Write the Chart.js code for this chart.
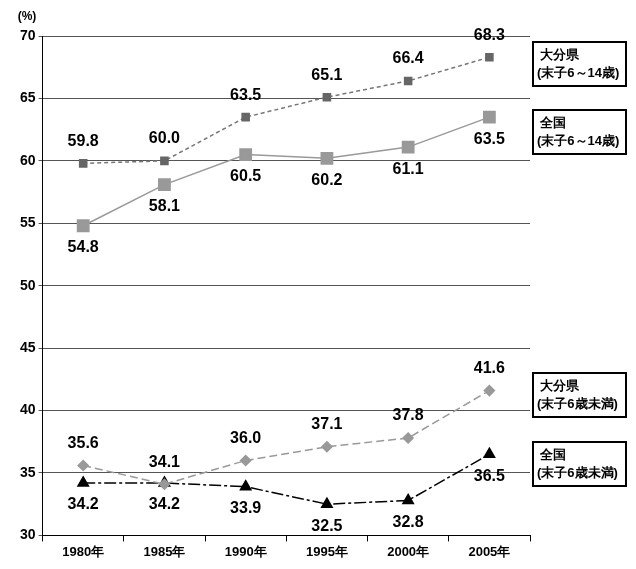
<!DOCTYPE html>
<html><head><meta charset="utf-8">
<script src="https://cdn.jsdelivr.net/npm/chart.js@4"></script>
<style>body{margin:0;background:#fff}#wrap{width:636px;height:569px}</style>
</head><body><div id="wrap"><canvas id="c"></canvas></div>
<script>
const years = ['1980年','1985年','1990年','1995年','2000年','2005年'];
const oitaOlder = [59.8, 60.0, 63.5, 65.1, 66.4, 68.3];
const natOlder = [54.8, 58.1, 60.5, 60.2, 61.1, 63.5];
const oitaYoung = [35.6, 34.1, 36.0, 37.1, 37.8, 41.6];
const natYoung = [34.2, 34.2, 33.9, 32.5, 32.8, 36.5];
const legendNames = [['大分県','(末子6～14歳)'],['全国','(末子6～14歳)'],['大分県','(末子6歳未満)'],['全国','(末子6歳未満)']];
const legendBoxY = [42, 110, 373, 442];
const FONT = '"Liberation Sans", Arial, sans-serif';

const labelPlugin = {
  id: 'labels',
  afterDatasetsDraw(chart) {
    const ctx = chart.ctx;
    ctx.save();
    ctx.font = 'bold 16px ' + FONT;
    ctx.fillStyle = '#000';
    ctx.textAlign = 'center';
    chart.data.datasets.forEach((ds, i) => {
      const meta = chart.getDatasetMeta(i);
      meta.data.forEach((p, j) => {
        const up = ds.labelPos === 'above';
        ctx.textBaseline = up ? 'bottom' : 'top';
        ctx.fillText(ds.data[j].toFixed(1), p.x, up ? p.y - 14 : p.y + 14);
      });
    });
    // legend boxes
    ctx.font = 'bold 13px ' + FONT;
    ctx.textAlign = 'left';
    ctx.textBaseline = 'middle';
    legendNames.forEach((n, i) => {
      const y = legendBoxY[i];
      ctx.lineWidth = 2;
      ctx.strokeStyle = '#000';
      ctx.strokeRect(533, y, 93, 44);
      ctx.fillText(n[0], 540, y + 13);
      ctx.fillText(n[1], 537, y + 31);
    });
    ctx.font = 'bold 12px ' + FONT;
    ctx.textAlign = 'center';
    ctx.fillText('(%)', 27, 17);
    ctx.restore();
  }
};

new Chart(document.getElementById('c'), {
  type: 'line',
  data: {
    labels: years,
    datasets: [
      { data: oitaOlder, borderColor: '#777', borderWidth: 1.5, borderDash: [4, 3], pointStyle: 'rect', pointRadius: 5, pointBackgroundColor: '#666', pointBorderColor: '#666', labelPos: 'above' },
      { data: natOlder, borderColor: '#999', borderWidth: 1.5, pointStyle: 'rect', pointRadius: 8, pointBackgroundColor: '#999', pointBorderColor: '#999', labelPos: 'below' },
      { data: oitaYoung, borderColor: '#999', borderWidth: 1.5, borderDash: [8, 4], pointStyle: 'rectRot', pointRadius: 5, pointBackgroundColor: '#999', pointBorderColor: '#999', labelPos: 'above' },
      { data: natYoung, borderColor: '#000', borderWidth: 1.5, borderDash: [12, 3, 3, 3], pointStyle: 'triangle', pointRadius: 6, pointBackgroundColor: '#000', pointBorderColor: '#000', labelPos: 'below' }
    ]
  },
  options: {
    responsive: true, maintainAspectRatio: false, animation: false,
    layout: { padding: { top: 36, right: 106, left: 17, bottom: 6 } },
    plugins: { legend: { display: false }, tooltip: { enabled: false } },
    scales: {
      x: {
        offset: true,
        grid: { display: true, drawOnChartArea: false, color: '#000', tickLength: 6, offset: true },
        border: { color: '#000' },
        ticks: { color: '#000', font: { family: FONT, size: 13, weight: 'bold' } }
      },
      y: {
        min: 30, max: 70,
        grid: { color: '#555', tickLength: 4 },
        border: { color: '#000' },
        ticks: { stepSize: 5, color: '#000', font: { family: FONT, size: 14, weight: 'bold' } }
      }
    }
  },
  plugins: [labelPlugin]
});
</script></body></html>
